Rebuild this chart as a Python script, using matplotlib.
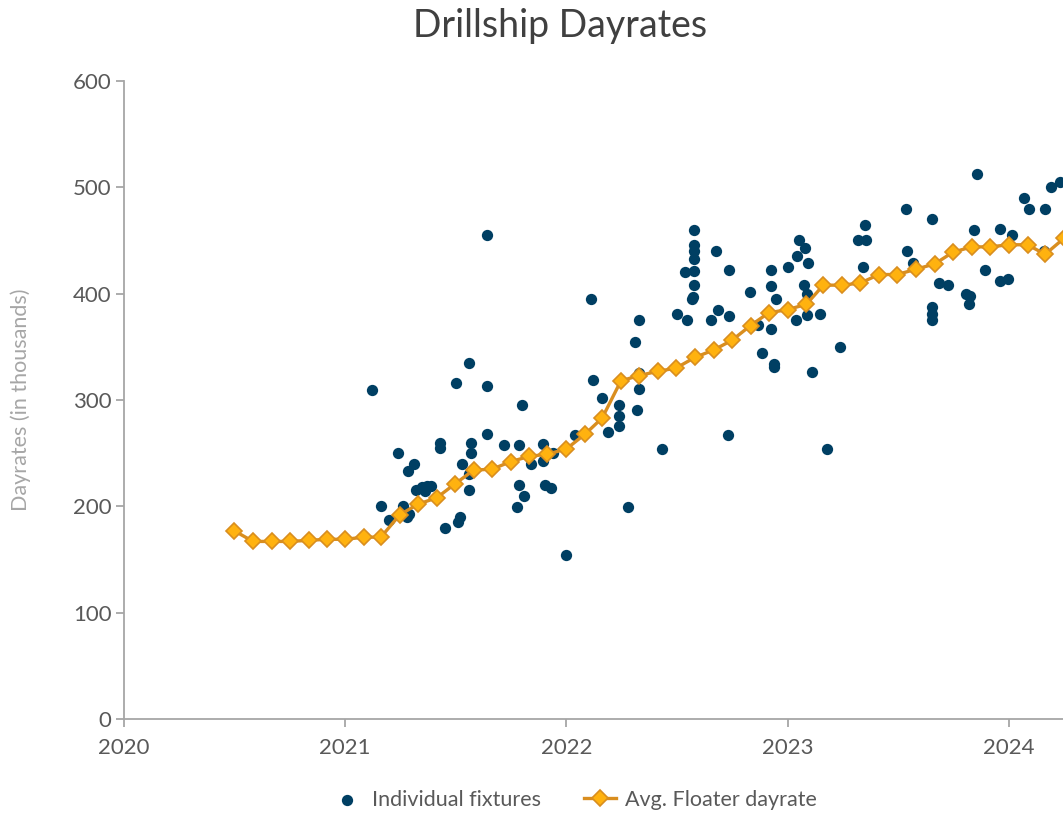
import numpy as np
import pandas as pd
import matplotlib
matplotlib.use('Agg')
import matplotlib.pyplot as plt

plt.rcParams['font.family'] = ['Lato', 'DejaVu Sans']

# individual fixtures: date (decimal year) and dayrate ($k)
fix_year = [
    2021.12, 2021.16, 2021.20, 2021.24, 2021.26, 2021.28, 2021.29, 2021.285, 2021.31,
    2021.32, 2021.345, 2021.37, 2021.39, 2021.36, 2021.43, 2021.43, 2021.45,
    2021.50, 2021.51, 2021.52, 2021.53, 2021.56, 2021.56, 2021.56, 2021.57, 2021.57,
    2021.64, 2021.64, 2021.64, 2021.72, 2021.775, 2021.785, 2021.785, 2021.80,
    2021.81, 2021.84, 2021.895, 2021.895, 2021.905, 2021.93, 2021.94, 2022.00, 2022.04,
    2022.11, 2022.12, 2022.16, 2022.19, 2022.24, 2022.24, 2022.24, 2022.28, 2022.31,
    2022.32, 2022.33, 2022.33, 2022.33, 2022.43, 2022.50, 2022.535, 2022.545,
    2022.575, 2022.575, 2022.575, 2022.575, 2022.575, 2022.575, 2022.573, 2022.568,
    2022.655, 2022.675, 2022.685, 2022.73, 2022.733, 2022.735, 2022.83, 2022.865,
    2022.885, 2022.925, 2022.925, 2022.927, 2022.94, 2022.94, 2022.946,
    2023.00, 2023.04, 2023.042, 2023.05, 2023.075, 2023.077, 2023.088, 2023.088,
    2023.09, 2023.11, 2023.145, 2023.18, 2023.235, 2023.32, 2023.353, 2023.35, 2023.34,
    2023.535, 2023.54, 2023.567, 2023.652, 2023.652, 2023.652, 2023.652, 2023.683,
    2023.725, 2023.805, 2023.823, 2023.818, 2023.842, 2023.856, 2023.891, 2023.961,
    2023.995, 2023.962, 2024.014, 2024.067, 2024.091, 2024.159, 2024.162, 2024.192,
    2024.232,
]
fix_rate = [
    309, 200, 187, 250, 200, 190, 193, 233, 240,
    215, 218, 219, 219, 214, 260, 255, 180,
    316, 185, 190, 240, 230, 215, 335, 260, 250,
    455, 313, 268, 258, 199, 258, 220, 295,
    210, 240, 259, 243, 220, 217, 250, 154, 267,
    395, 319, 302, 270, 295, 285, 276, 199, 355,
    291, 375, 325, 310, 254, 381, 420, 375,
    460, 446, 440, 433, 421, 408, 397, 395,
    375, 440, 385, 267, 379, 422, 402, 371,
    344, 422, 407, 367, 334, 331, 395,
    425, 375, 435, 450, 408, 443, 400, 380,
    429, 326, 381, 254, 350, 450, 450, 465, 425,
    480, 440, 429, 470, 387, 381, 375, 410,
    408, 400, 398, 390, 460, 513, 422, 412,
    414, 461, 455, 490, 480, 440, 480, 500,
    505,
]

# monthly average floater dayrate, Jul 2020 - Apr 2024
avg_rate = [
    177, 167, 167, 167, 168, 169, 169, 171, 171,
    192, 202, 208, 221, 234, 235, 242, 247, 249,
    254, 268, 283, 318, 323, 327, 330, 340, 347, 356, 370, 382,
    385, 390, 408, 408, 410, 418, 418, 423, 428, 439, 444, 444,
    446, 446, 437, 452,
]
avg_month = pd.date_range('2020-07-01', periods=len(avg_rate), freq='MS')
avg_year = avg_month.year + (avg_month.dayofyear - 1) / 365.25

fig = plt.figure(figsize=(10.63, 8.15), dpi=100)
ax = fig.add_axes([124 / 1063, 96 / 815, 939 / 1063, 638 / 815])

ax.scatter(fix_year, fix_rate, s=66, color='#003F63', zorder=3,
           label='Individual fixtures', linewidths=0)
ax.plot(avg_year, avg_rate, color='#D98E1F', linewidth=2.4, marker='D',
        markersize=8, markerfacecolor='#FFB20F', markeredgecolor='#D98E1F',
        markeredgewidth=1.2, zorder=4, label='Avg. Floater dayrate')

ax.set_xlim(2020, 2024.245)
ax.set_ylim(0, 600)
ax.set_xticks([2020, 2021, 2022, 2023, 2024])
ax.set_xticklabels(['2020', '2021', '2022', '2023', '2024'])
ax.set_yticks(np.arange(0, 601, 100))

for side in ['top', 'right']:
    ax.spines[side].set_visible(False)
for side in ['left', 'bottom']:
    ax.spines[side].set_color('#A6A6A6')
    ax.spines[side].set_linewidth(1.3)
ax.tick_params(colors='#A6A6A6', labelcolor='#595959', labelsize=16,
               length=6, width=1.3, direction='out')
ax.tick_params(axis='x', pad=8)
ax.tick_params(axis='y', pad=3)

ax.set_ylabel('Dayrates (in thousands)', color='#A6A6A6', fontsize=15.5, labelpad=30)
fig.text(560 / 1063, 1 - 26 / 815, 'Drillship Dayrates', ha='center', va='center',
         fontsize=27, color='#404040')

fig.legend(loc='center', bbox_to_anchor=(574 / 1063, 1 - 800 / 815), ncol=2,
           frameon=False, fontsize=15.5, labelcolor='#595959', handlelength=1.5,
           columnspacing=2.0, handletextpad=0.4, markerscale=1.0)

fig.savefig('out.png', dpi=100)
